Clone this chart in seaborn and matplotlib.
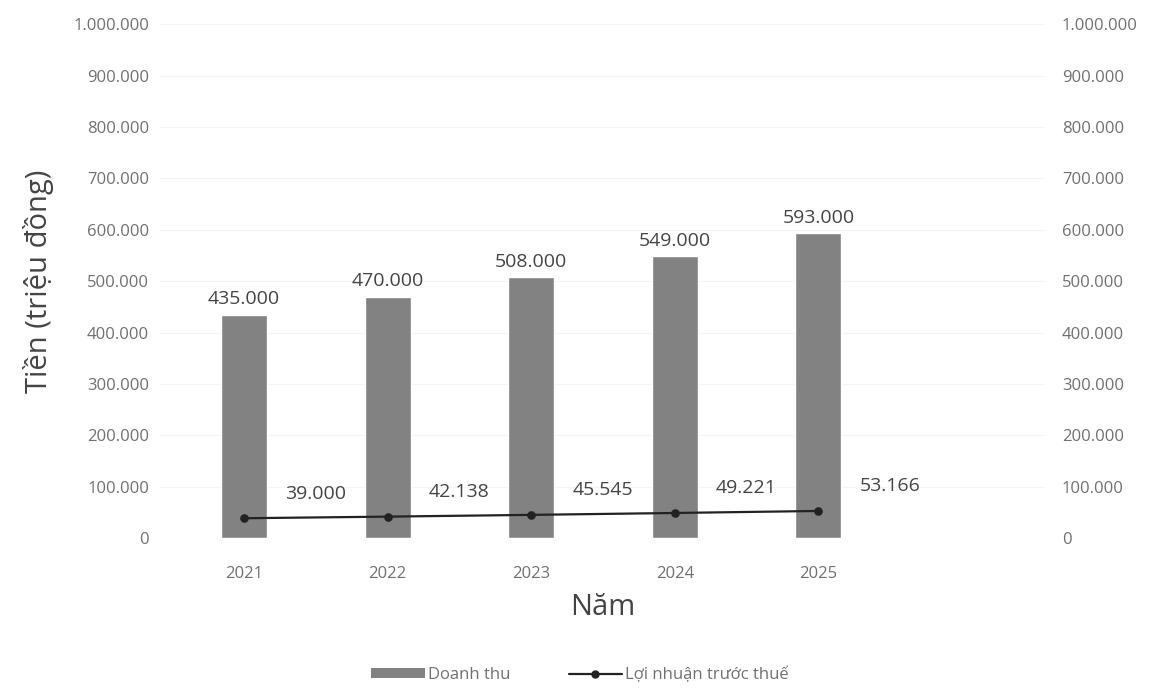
import numpy as np
import pandas as pd
import matplotlib
matplotlib.use("Agg")
import matplotlib.pyplot as plt
import seaborn as sns
from matplotlib.lines import Line2D
from matplotlib.patches import Patch
from matplotlib.ticker import FuncFormatter

# Data
years = ["2021", "2022", "2023", "2024", "2025"]
revenue = [435000, 470000, 508000, 549000, 593000]
profit = [39000, 42138, 45545, 49221, 53166]
revenue_labels = ["435.000", "470.000", "508.000", "549.000", "593.000"]
profit_labels = ["39.000", "42.138", "45.545", "49.221", "53.166"]

df = pd.DataFrame({"Năm": years, "Doanh thu": revenue, "Lợi nhuận trước thuế": profit})

sns.set_theme(style="white")
plt.rcParams["font.family"] = ["Open Sans", "DejaVu Sans"]

text_grey = "#707070"
bar_grey = "#828282"

fig = plt.figure(figsize=(11.6, 6.91), dpi=100)
ax = fig.add_axes([0.138, 0.221, 0.763, 0.744])

sns.barplot(data=df, x="Năm", y="Doanh thu", color=bar_grey, width=0.32,
            saturation=1, ax=ax)
sns.pointplot(data=df, x="Năm", y="Lợi nhuận trước thuế", color="#222222",
              markers="o", markersize=5, linewidth=1.6, ax=ax)

ax.set_ylim(0, 1000000)
ax.set_xlim(-0.585, 5.58)
ax.set_yticks(np.arange(0, 1000001, 100000))
fmt = FuncFormatter(lambda v, p: f"{int(v):,}".replace(",", "."))
ax.yaxis.set_major_formatter(fmt)
ax.yaxis.grid(True, color="#f4f4f4", linewidth=0.8)
ax.tick_params(axis="both", colors=text_grey, labelsize=12, length=0)
ax.tick_params(axis="y", pad=8)
ax.tick_params(axis="x", pad=20)
for s in ax.spines.values():
    s.set_visible(False)

# right axis with same ticks
ax2 = ax.twinx()
ax2.set_ylim(ax.get_ylim())
ax2.set_yticks(ax.get_yticks())
ax2.yaxis.set_major_formatter(fmt)
ax2.tick_params(axis="y", colors=text_grey, labelsize=12, length=0, pad=12)
for s in ax2.spines.values():
    s.set_visible(False)

# value labels
for i, (v, lab) in enumerate(zip(revenue, revenue_labels)):
    ax.text(i, v + 12000, lab, ha="center", va="bottom", fontsize=14, color="#444444")
for i, (v, lab) in enumerate(zip(profit, profit_labels)):
    ax.text(i + 0.5, v + 48000, lab, ha="center", va="center", fontsize=14, color="#444444")

ax.set_xlabel("Năm", fontsize=21, color="#444444", labelpad=8)
ax.set_ylabel("Tiền (triệu đồng)", fontsize=21, color="#444444", labelpad=14)

handles = [Patch(facecolor=bar_grey, edgecolor="none", label="Doanh thu"),
           Line2D([0], [0], color="#222222", marker="o", markersize=5, linewidth=1.6,
                  label="Lợi nhuận trước thuế")]
fig.legend(handles=handles, loc="lower center", bbox_to_anchor=(0.5, -0.01), ncol=2,
           frameon=False, fontsize=12, labelcolor=text_grey, handlelength=3.2,
           handleheight=0.5, handletextpad=0.2, columnspacing=3.5)

fig.savefig("out.png", dpi=100)
